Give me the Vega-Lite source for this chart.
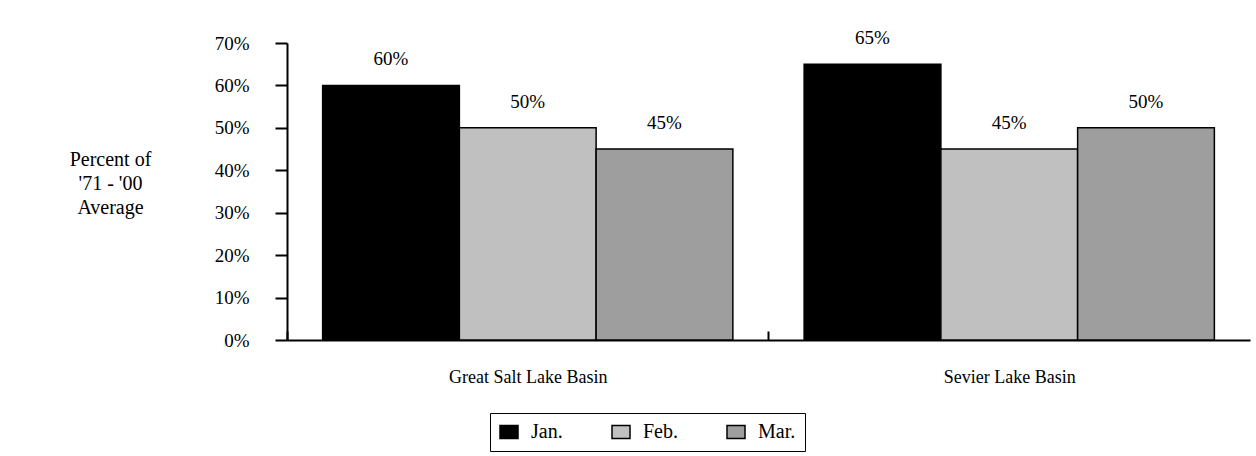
{
  "$schema": "https://vega.github.io/schema/vega-lite/v6.json",
  "width": 963,
  "height": 297,
  "autosize": {"type": "none"},
  "padding": {"left": 287, "top": 43, "right": 6, "bottom": 116},
  "background": "white",
  "config": {
    "view": {"stroke": null},
    "font": "Liberation Serif",
    "text": {"font": "Liberation Serif"}
  },
  "data": {
    "values": [
      {"basin": "Great Salt Lake Basin", "month": "Jan.", "pct": 0.60},
      {"basin": "Great Salt Lake Basin", "month": "Feb.", "pct": 0.50},
      {"basin": "Great Salt Lake Basin", "month": "Mar.", "pct": 0.45},
      {"basin": "Sevier Lake Basin", "month": "Jan.", "pct": 0.65},
      {"basin": "Sevier Lake Basin", "month": "Feb.", "pct": 0.45},
      {"basin": "Sevier Lake Basin", "month": "Mar.", "pct": 0.50}
    ]
  },
  "encoding": {
    "x": {
      "field": "basin",
      "type": "nominal",
      "sort": ["Great Salt Lake Basin", "Sevier Lake Basin"],
      "scale": {"paddingInner": 0.148, "paddingOuter": 0.074},
      "axis": {
        "title": null,
        "labelAngle": 0,
        "labelFontSize": 18,
        "labelColor": "black",
        "labelPadding": 37,
        "labelOffset": 36,
        "domainColor": "black",
        "domainWidth": 2,
        "ticks": true,
        "bandPosition": 0,
        "tickOffset": -36,
        "tickSize": -9,
        "tickWidth": 2,
        "tickColor": "black"
      }
    },
    "xOffset": {
      "field": "month",
      "type": "nominal",
      "sort": ["Jan.", "Feb.", "Mar."],
      "scale": {"paddingInner": 0, "paddingOuter": 0}
    },
    "y": {
      "field": "pct",
      "type": "quantitative",
      "scale": {"domain": [0, 0.7], "nice": false},
      "axis": {
        "title": ["Percent of", "'71 - '00", "Average"],
        "titleAngle": 0,
        "titleAlign": "center",
        "titleBaseline": "top",
        "titleX": -177,
        "titleY": 106,
        "titleFontSize": 20,
        "titleFontWeight": "normal",
        "titleLineHeight": 24,
        "titleColor": "black",
        "format": ".0%",
        "values": [0, 0.1, 0.2, 0.3, 0.4, 0.5, 0.6, 0.7],
        "grid": false,
        "tickSize": 12,
        "tickWidth": 2,
        "tickColor": "black",
        "domainColor": "black",
        "domainWidth": 2,
        "labelFontSize": 19,
        "labelColor": "black",
        "labelPadding": 26
      }
    }
  },
  "layer": [
    {
      "mark": {"type": "bar", "stroke": "black", "strokeWidth": 1.5},
      "encoding": {
        "color": {
          "field": "month",
          "type": "nominal",
          "sort": ["Jan.", "Feb.", "Mar."],
          "scale": {"domain": ["Jan.", "Feb.", "Mar."], "range": ["#000000", "#c0c0c0", "#9e9e9e"]},
          "legend": {
            "title": null,
            "orient": "none",
            "direction": "horizontal",
            "legendX": 203,
            "legendY": 370,
            "strokeColor": "black",
            "fillColor": "white",
            "padding": 9,
            "symbolType": "M-1,-0.72H1V0.72H-1Z",
            "symbolSize": 324,
            "symbolStrokeColor": "black",
            "symbolStrokeWidth": 1.5,
            "symbolOpacity": 1,
            "labelFontSize": 20,
            "labelColor": "black",
            "labelFont": "Liberation Serif",
            "columnPadding": 46,
            "labelOffset": 12
          }
        }
      }
    },
    {
      "mark": {"type": "text", "baseline": "alphabetic", "dy": -20, "fontSize": 19, "color": "black"},
      "encoding": {
        "text": {"field": "pct", "type": "quantitative", "format": ".0%"}
      }
    }
  ]
}
